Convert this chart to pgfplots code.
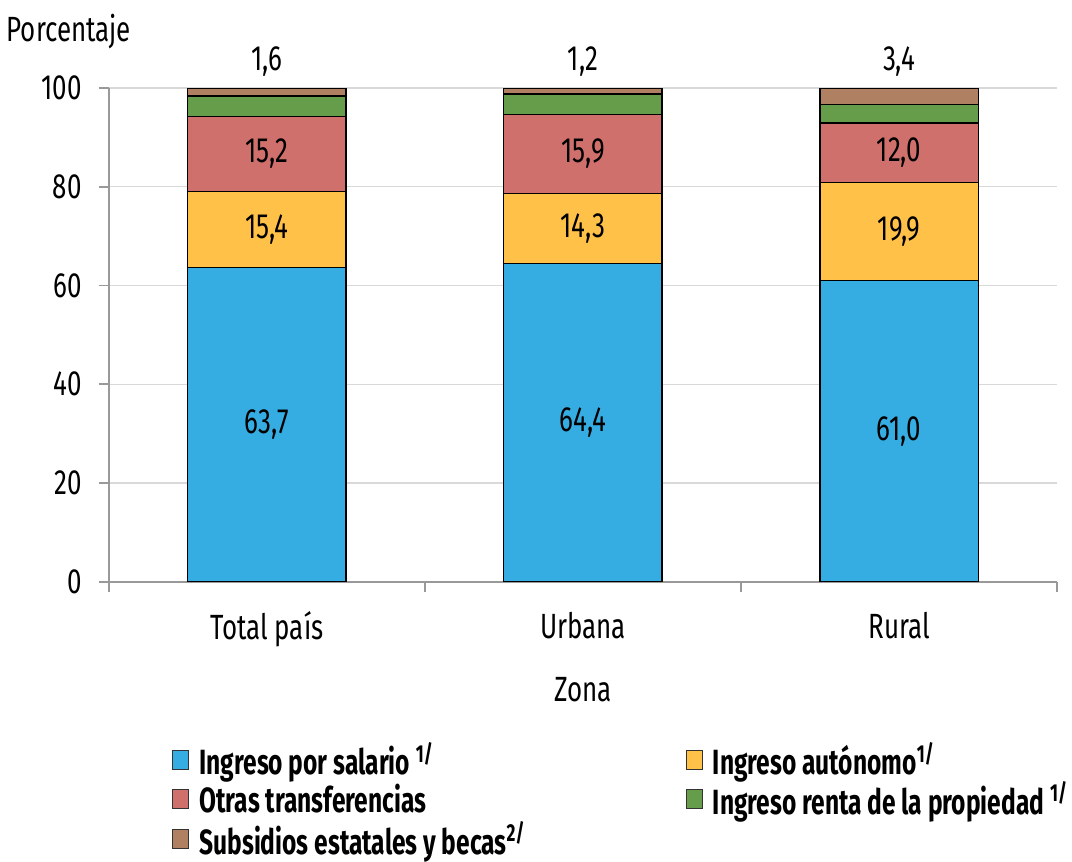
\documentclass[border=0pt]{standalone}
\usepackage{pgfplots}
\usepackage{pgfplotstable}
\usepackage{fontspec}
\pgfplotsset{compat=1.18}
\setmainfont[FakeStretch=0.74, BoldFeatures={FakeStretch=0.70}]{Fira Sans}

\definecolor{csal}{RGB}{53,173,226}
\definecolor{caut}{RGB}{255,193,72}
\definecolor{cotr}{RGB}{208,112,108}
\definecolor{cren}{RGB}{102,157,75}
\definecolor{csub}{RGB}{176,128,98}

\pgfplotstableread{
x sal aut otr ren sub
0 63.7 15.4 15.2 4.1 1.6
1 64.4 14.3 15.9 4.2 1.2
2 61.0 19.9 12.0 3.7 3.4
}\datos

\begin{document}
\begin{tikzpicture}[font=\fontsize{17.5}{20}\selectfont]
\begin{axis}[
    width=473.5pt, height=246.5pt, scale only axis,
    ybar stacked, bar width=79pt,
    xmin=-0.5, xmax=2.5, ymin=0, ymax=100,
    xtick={0,1,2}, xticklabels={Total país, Urbana, Rural},
    minor xtick={-0.5,0.5,1.5,2.5},
    ytick={0,20,...,100},
    axis x line*=bottom, axis y line*=left,
    axis line style={gray!80, line width=0.8pt},
    tick align=outside,
    major tick length=5pt, minor tick length=5pt,
    major x tick style={draw=none},
    minor x tick style={gray!80, line width=0.8pt},
    y tick style={gray!80, line width=0.8pt},
    ymajorgrids, grid style={gray!30, line width=0.6pt},
    /pgf/number format/assume math mode=true,
    xticklabel style={yshift=-6.5pt},
    yticklabel style={xshift=-5pt},
    xlabel={Zona}, xlabel style={yshift=-8pt},
    ylabel={Porcentaje},
    ylabel style={rotate=-90, at={(rel axis cs:0,1)}, anchor=base west, inner ysep=7.3pt, xshift=-54.5pt, yshift=23pt},
    legend columns=2, legend cell align=left,
    legend style={draw=none, at={(rel axis cs:0,0)}, anchor=north west, xshift=31.5pt, yshift=-78pt,
        font=\fontsize{17.5}{20}\selectfont\bfseries, row sep=-2pt, inner sep=0pt,
        /tikz/every even column/.append style={column sep=78pt}},
    legend image code/.code={\draw[#1, draw=black!80] (0pt,-4.5pt) rectangle (8pt,5pt); \path (11pt,0pt);},
    every axis plot/.append style={draw=black, line width=0.6pt},
]
\addplot[fill=csal] table[x=x, y=sal] {\datos};
\addlegendentry{Ingreso por salario \textsuperscript{1/}}
\addplot[fill=caut] table[x=x, y=aut] {\datos};
\addlegendentry{Ingreso autónomo\textsuperscript{1/}}
\addplot[fill=cotr] table[x=x, y=otr] {\datos};
\addlegendentry{Otras transferencias}
\addplot[fill=cren] table[x=x, y=ren] {\datos};
\addlegendentry{Ingreso renta de la propiedad \textsuperscript{1/}}
\addplot[fill=csub] table[x=x, y=sub] {\datos};
\addlegendentry{Subsidios estatales y becas\textsuperscript{2/}}
\end{axis}
% etiquetas de los segmentos
\begin{axis}[
    width=473.5pt, height=246.5pt, scale only axis,
    xmin=-0.5, xmax=2.5, ymin=0, ymax=100,
    hide axis, clip=false,
    nodes near coords,
    every node near coord/.append style={anchor=center, font=\fontsize{17.5}{20}\selectfont},
    /pgf/number format/.cd, use comma, fixed, zerofill, precision=1, assume math mode=true,
]
\addplot[draw=none, mark=none, point meta=explicit] table[x=x, y expr=\thisrow{sal}/2, meta=sal] {\datos};
\addplot[draw=none, mark=none, point meta=explicit] table[x=x, y expr=\thisrow{sal}+\thisrow{aut}/2, meta=aut] {\datos};
\addplot[draw=none, mark=none, point meta=explicit] table[x=x, y expr=\thisrow{sal}+\thisrow{aut}+\thisrow{otr}/2, meta=otr] {\datos};
\addplot[draw=none, mark=none, point meta=explicit, nodes near coords style={yshift=13pt}] table[x=x, y expr=\thisrow{sal}+\thisrow{aut}+\thisrow{otr}+\thisrow{ren}+\thisrow{sub}, meta=sub] {\datos};
\end{axis}
\end{tikzpicture}
\end{document}
